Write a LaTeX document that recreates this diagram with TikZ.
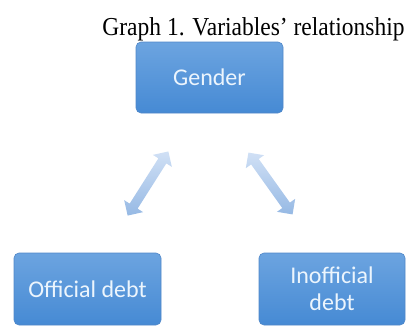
\documentclass[tikz,border=0pt]{standalone}
\usepackage{fontspec}
\setmainfont{Liberation Serif}
\newfontfamily\boxfont{Carlito}
\usetikzlibrary{shapes.arrows}
\definecolor{boxtop}{RGB}{108,164,224}
\definecolor{boxbot}{RGB}{70,138,212}
\definecolor{boxedge}{RGB}{80,135,200}
\definecolor{boxtext}{RGB}{236,245,253}
\definecolor{arrlight}{RGB}{208,224,245}
\definecolor{arrdark}{RGB}{150,185,228}
\tikzset{
  vbox/.style={draw=boxedge, line width=0.6pt, rounded corners=5pt, top color=boxtop, bottom color=boxbot,
    minimum width=147pt, minimum height=71pt, text=boxtext, align=center,
    font=\boxfont\fontsize{24}{27}\selectfont},
  darrow/.style={double arrow, sloped, allow upside down, inner sep=4.5pt, double arrow head extend=6.5pt,
    minimum height=76pt, top color=arrlight, bottom color=arrdark, draw=none}
}
\begin{document}
\begin{tikzpicture}[x=1pt,y=1pt]
\useasboundingbox (0,0) rectangle (419,325);
\node[anchor=base, font=\fontsize{23.5}{26}\selectfont, yscale=1.1] (title) at (253.5,290) {Graph 1. Variables’ relationship};
\node[vbox] (gender) at (209.5,247.5) {Gender};
\node[vbox, minimum height=72pt] (official) at (87.5,36) {Official debt};
\node[vbox, minimum height=72pt, minimum width=146pt] (inofficial) at (332,36) {Inofficial\\debt};
\coordinate (l1) at (128,110);
\coordinate (l2) at (168,173);
\coordinate (r1) at (293,110);
\coordinate (r2) at (248,173);
\path (l1) -- (l2) node[darrow, midway] (la) {};
\path (r1) -- (r2) node[darrow, midway] (ra) {};
\end{tikzpicture}
\end{document}
